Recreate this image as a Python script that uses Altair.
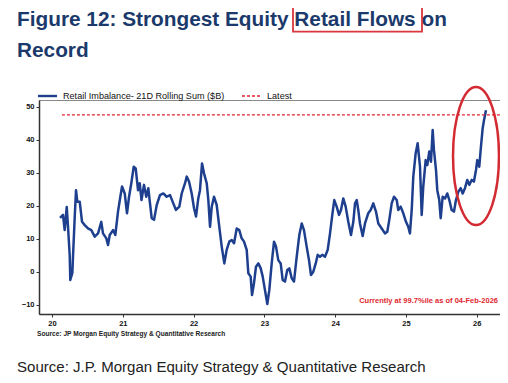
import altair as alt
import pandas as pd

# ---- data (x = year, 20 = 2020) ----
years = [20.113, 20.155, 20.179, 20.208, 20.226, 20.250, 20.258, 20.287, 20.297, 20.321,
         20.339, 20.357, 20.391, 20.424, 20.462, 20.508, 20.555, 20.603, 20.650, 20.696,
         20.720, 20.767, 20.791, 20.815, 20.862, 20.894, 20.932, 20.965, 20.989, 21.027,
         21.059, 21.088, 21.120, 21.154, 21.182, 21.215, 21.239, 21.264, 21.299, 21.331,
         21.360, 21.384, 21.408, 21.441, 21.479, 21.525, 21.572, 21.620, 21.667, 21.713,
         21.751, 21.798, 21.832, 21.879, 21.903, 21.935, 21.973, 22.006, 22.034, 22.066,
         22.090, 22.119, 22.147, 22.185, 22.208, 22.232, 22.256, 22.288, 22.326, 22.363,
         22.397, 22.434, 22.467, 22.504, 22.538, 22.571, 22.609, 22.645, 22.679, 22.712,
         22.750, 22.773, 22.806, 22.825, 22.853, 22.881, 22.914, 22.948, 22.976, 23.008,
         23.041, 23.069, 23.103, 23.136, 23.164, 23.196, 23.230, 23.258, 23.291, 23.323,
         23.352, 23.386, 23.418, 23.456, 23.493, 23.527, 23.559, 23.597, 23.630, 23.658,
         23.691, 23.725, 23.753, 23.785, 23.818, 23.856, 23.894, 23.927, 23.959, 23.987,
         24.021, 24.054, 24.082, 24.114, 24.148, 24.185, 24.223, 24.256, 24.280, 24.304,
         24.326, 24.350, 24.388, 24.421, 24.467, 24.501, 24.538, 24.576, 24.609, 24.657,
         24.703, 24.736, 24.764, 24.798, 24.831, 24.869, 24.891, 24.925, 24.962, 25.000,
         25.032, 25.056, 25.081, 25.103, 25.137, 25.165, 25.198, 25.222, 25.244, 25.278,
         25.301, 25.329, 25.353, 25.377, 25.395, 25.424, 25.442, 25.470, 25.490, 25.518,
         25.551, 25.583, 25.612, 25.645, 25.678, 25.706, 25.739, 25.773, 25.801, 25.833,
         25.866, 25.894, 25.928, 25.960, 25.989, 26.007, 26.035, 26.059, 26.083, 26.102,
         26.130]
values = [16.4, 17.3, 12.7, 19.7, 13.7, 5.0, -2.4, -0.3, 5.0, 16.8,
          24.8, 21.3, 21.3, 15.2, 14.2, 13.2, 12.7, 10.7, 11.7, 15.2,
          11.7, 10.2, 8.2, 11.2, 12.7, 11.2, 18.3, 22.8, 25.9, 23.8,
          17.8, 22.8, 26.9, 31.9, 31.4, 24.8, 26.9, 21.8, 26.4, 22.8,
          25.4, 20.8, 16.3, 15.8, 20.3, 23.3, 23.8, 22.8, 23.3, 20.8,
          18.8, 19.8, 23.8, 26.9, 28.9, 27.4, 23.8, 19.3, 16.8, 22.3,
          24.8, 32.9, 29.9, 26.9, 21.8, 13.7, 19.8, 22.8, 20.3, 13.7,
          7.7, 2.6, 6.7, 9.2, 9.7, 8.7, 13.2, 12.7, 10.2, 9.2,
          6.7, -0.4, -1.4, -7.0, -3.4, 1.6, 2.6, 1.1, -1.4, -5.5,
          -9.7, -5.5, 2.6, 9.2, 7.7, 3.6, 2.6, -2.4, -2.9, 0.6,
          1.1, -1.9, -2.9, 4.6, 11.2, 14.7, 12.7, 7.7, 3.6, -0.9,
          0.1, 2.6, 5.2, 4.6, 5.2, 4.6, 6.7, 11.7, 17.3, 21.8,
          19.8, 17.3, 18.8, 22.3, 19.8, 15.2, 11.2, 15.2, 20.8, 21.8,
          18.8, 14.7, 10.9, 14.7, 17.8, 18.8, 20.8, 18.3, 14.7, 13.2,
          11.7, 12.2, 15.8, 20.8, 22.8, 21.8, 18.8, 19.8, 17.8, 15.2,
          13.7, 11.7, 18.8, 28.9, 36.0, 39.0, 31.9, 17.3, 25.9, 33.9,
          32.4, 36.5, 33.4, 43.0, 37.0, 30.9, 24.8, 21.8, 16.3, 22.8,
          22.3, 23.8, 21.8, 18.8, 18.3, 21.8, 24.3, 25.4, 23.8, 25.4,
          27.9, 26.4, 27.9, 27.4, 30.9, 33.9, 31.9, 38.0, 43.5, 46.0,
          49.0]
latest_value = [47.6]
latest_start = [20.14]
x_ticks = [20, 21, 22, 23, 24, 25, 26]
y_ticks = [-10, 0, 10, 20, 30, 40, 50]

title_line1 = "Figure 12: Strongest Equity Retail Flows on"
title_line2 = "Record"
series_name = "Retail Imbalance- 21D Rolling Sum ($B)"
latest_name = "Latest"
note_text = "Currently at 99.7%ile as of 04-Feb-2026"
inner_source = "Source: JP Morgan Equity Strategy & Quantitative Research"
outer_source = "Source: J.P. Morgan Equity Strategy & Quantitative Research"

# ---- layout ----
W, H = 461, 214
XDOM = [19.816, 26.328]
YDOM = [-12.73, 52.12]
FONT = "Liberation Sans"
NAVY = "#1b3a6b"
BLUE = "#1d3f8e"
RED = "#e0262f"

df = pd.DataFrame({"t": years, "v": values})
xs = alt.Scale(domain=XDOM, nice=False, zero=False)
ys = alt.Scale(domain=YDOM, nice=False, zero=False)

axis_common = dict(title=None, grid=False, labelFont=FONT, labelFontSize=7.5,
                   labelFontWeight="bold", labelColor="#111", tickColor="#333",
                   tickSize=3, domainColor="#333", domainWidth=1.5, labelPadding=2,
                   labelOverlap=False, labelBound=False, labelFlush=False)
x_axis = alt.Axis(values=x_ticks, format="d", **axis_common)
y_axis = alt.Axis(values=y_ticks, format="d", **axis_common)

line = alt.Chart(df).mark_line(color=BLUE, strokeWidth=2.5, strokeJoin="round").encode(
    x=alt.X("t:Q", scale=xs, axis=x_axis),
    y=alt.Y("v:Q", scale=ys, axis=y_axis),
)

ldf = pd.DataFrame({"x": latest_start, "x2": [XDOM[1]], "y": latest_value})
latest = alt.Chart(ldf).mark_rule(color=RED, strokeDash=[3, 2], strokeWidth=1.3).encode(
    x=alt.X("x:Q", scale=xs, axis=x_axis), x2="x2:Q",
    y=alt.Y("y:Q", scale=ys, axis=y_axis)
)

one = pd.DataFrame({"a": [0]})


def txt(s, x, y, size, color, weight="normal", align="left", baseline="middle"):
    return alt.Chart(one).mark_text(
        text=s, font=FONT, fontSize=size, fontWeight=weight, color=color,
        align=align, baseline=baseline
    ).encode(x=alt.value(x), y=alt.value(y))


t1 = txt(title_line1, -22, -74, 20.8, NAVY, "bold", baseline="alphabetic")
t2 = txt(title_line2, -22, -43.3, 20.8, NAVY, "bold", baseline="alphabetic")
box = alt.Chart(one).mark_rect(fillOpacity=0, stroke="#d9363e", strokeWidth=1.8).encode(
    x=alt.value(254), x2=alt.value(383), y=alt.value(-95.3), y2=alt.value(-68.3)
)

leg_line = alt.Chart(one).mark_rule(color=BLUE, strokeWidth=2.4).encode(
    x=alt.value(-1), x2=alt.value(18), y=alt.value(-4))
leg_txt = txt(series_name, 24, -4, 9.1, "#111")
leg_dash = alt.Chart(one).mark_rule(color=RED, strokeWidth=1.3, strokeDash=[3, 2]).encode(
    x=alt.value(203), x2=alt.value(221), y=alt.value(-4))
leg_txt2 = txt(latest_name, 228, -4, 9.1, "#111")

note = txt(note_text, 459, 200.7, 7.5, RED, "bold", align="right")
src_in = txt(inner_source, -2, 234, 6.6, "#222", "bold")
src_out = txt(outer_source, -22, 266.7, 15.05, "#222")

ellipse_shape = "M -0.333 0 A 0.333 1 0 1 0 0.333 0 A 0.333 1 0 1 0 -0.333 0 Z"
ellipse = alt.Chart(one).mark_point(
    shape=ellipse_shape, size=138 * 138, filled=False, stroke="#d42a32",
    strokeWidth=2.5, opacity=1
).encode(x=alt.value(437), y=alt.value(56))

chart = alt.layer(
    line, latest, t1, t2, box, leg_line, leg_txt, leg_dash, leg_txt2,
    note, src_in, src_out, ellipse
).properties(
    width=W, height=H,
    padding={"left": 31, "top": 92, "right": 0, "bottom": 61},
    autosize=alt.AutoSizeParams(type="none"),
    background="white",
).configure_view(stroke="#888", strokeWidth=1)

chart.save("out.html", embed_options={"renderer": "svg", "actions": False})
